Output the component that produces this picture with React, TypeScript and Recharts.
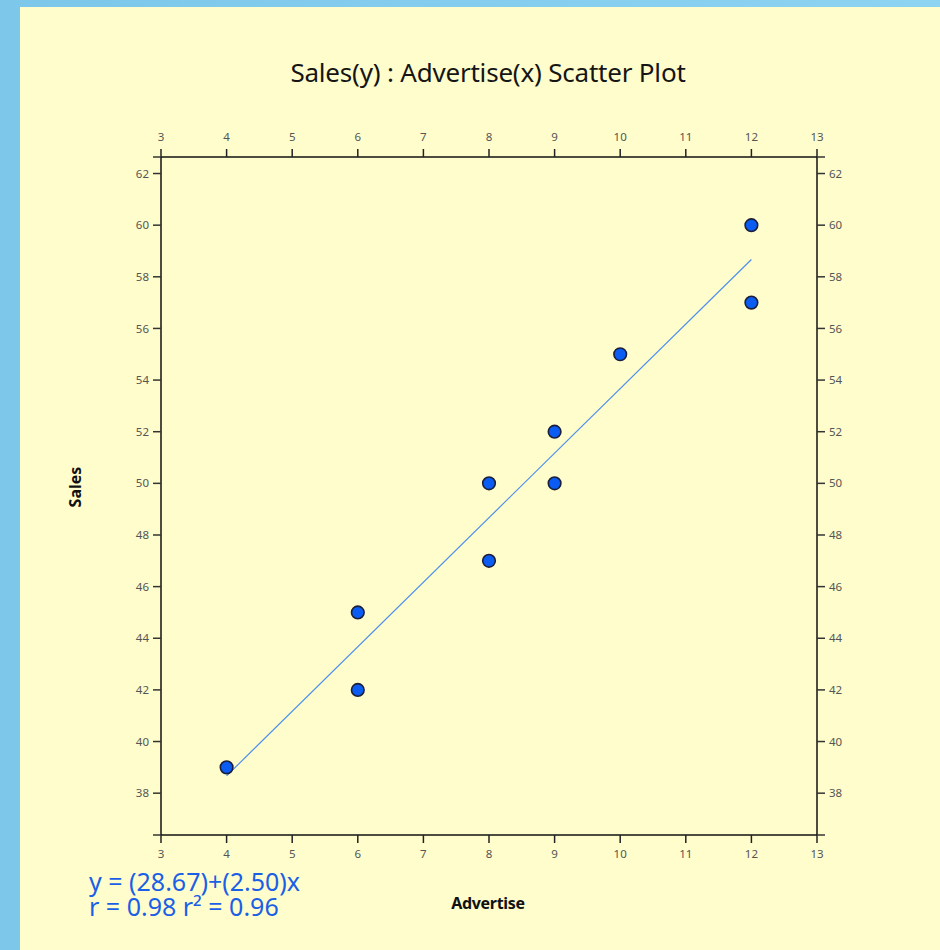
import React from 'react';
import { ScatterChart, Scatter, XAxis, YAxis } from 'recharts';

// Data
const advertise = [4, 6, 6, 8, 8, 9, 9, 10, 12, 12];
const sales = [39, 45, 42, 50, 47, 52, 50, 55, 60, 57];
const fitX = [4, 12];
const fitY = [38.67, 58.67];
const xTicks = [3, 4, 5, 6, 7, 8, 9, 10, 11, 12, 13];
const yLabelTicks = [38, 40, 42, 44, 46, 48, 50, 52, 54, 56, 58, 60, 62];
const xDomain = [3, 13];
const yDomain = [36.38, 62.64];
const titleText = 'Sales(y) : Advertise(x) Scatter Plot';
const xLabel = 'Advertise';
const yLabel = 'Sales';
const eqLine1 = 'y = (28.67)+(2.50)x';
const eqLine2 = 'r = 0.98 r² = 0.96';

const points = advertise.map((x, i) => ({ x, y: sales[i] }));
const fitLine = fitX.map((x, i) => ({ x, y: fitY[i] }));
const yTicks = [yDomain[0], ...yLabelTicks, yDomain[1]];

const FONT = '"Noto Sans", "Open Sans", sans-serif';
const tickStyle = { fontSize: 11.5, fill: '#555', fontFamily: FONT };
const yFmt = (v: number) => (yLabelTicks.includes(v) ? String(v) : '');

const Dot = (props: any) => {
  const { cx, cy } = props;
  if (cx == null || cy == null) return <g />;
  return <circle cx={cx} cy={cy} r={6.3} fill="#0a5cf2" stroke="#1b1f3a" strokeWidth={1.6} />;
};
const NoDot = () => <g />;

export default function App() {
  return (
    <div
      style={{
        position: 'absolute',
        left: 0,
        top: 0,
        width: 940,
        height: 950,
        background: 'linear-gradient(90deg, #7cc7ea 0%, #8dd3f2 100%)',
        overflow: 'hidden',
      }}
    >
      <div
        style={{
          position: 'absolute',
          left: 20,
          top: 7,
          width: 920,
          height: 943,
          background: '#fffdcc',
        }}
      />
      <div style={{ position: 'absolute', left: 0, top: 0 }}>
        <ScatterChart width={940} height={950} margin={{ top: 0, right: 0, bottom: 0, left: 0 }}>
          <XAxis
            xAxisId="b"
            dataKey="x"
            type="number"
            orientation="bottom"
            domain={xDomain}
            ticks={xTicks}
            allowDataOverflow
            height={115}
            tickSize={8}
            tickMargin={7}
            interval={0}
            axisLine={{ stroke: '#111', strokeWidth: 1.5 }}
            tickLine={{ stroke: '#222', strokeWidth: 1.5 }}
            tick={tickStyle}
          />
          <XAxis
            xAxisId="t"
            dataKey="x"
            type="number"
            orientation="top"
            domain={xDomain}
            ticks={xTicks}
            allowDataOverflow
            height={157}
            tickSize={8}
            tickMargin={8}
            interval={0}
            axisLine={{ stroke: '#111', strokeWidth: 1.5 }}
            tickLine={{ stroke: '#222', strokeWidth: 1.5 }}
            tick={tickStyle}
          />
          <YAxis
            yAxisId="l"
            dataKey="y"
            type="number"
            orientation="left"
            domain={yDomain}
            ticks={yTicks}
            allowDataOverflow
            width={161}
            tickSize={8}
            tickMargin={4}
            interval={0}
            tickFormatter={yFmt}
            axisLine={{ stroke: '#111', strokeWidth: 1.5 }}
            tickLine={{ stroke: '#333', strokeWidth: 1.5 }}
            tick={tickStyle}
          />
          <YAxis
            yAxisId="r"
            dataKey="y"
            type="number"
            orientation="right"
            domain={yDomain}
            ticks={yTicks}
            allowDataOverflow
            width={123}
            tickSize={8}
            tickMargin={4}
            interval={0}
            tickFormatter={yFmt}
            axisLine={{ stroke: '#111', strokeWidth: 1.5 }}
            tickLine={{ stroke: '#333', strokeWidth: 1.5 }}
            tick={tickStyle}
          />
          <Scatter
            xAxisId="t"
            yAxisId="r"
            data={fitLine}
            line={{ stroke: '#4d8ff0', strokeWidth: 1.2 }}
            shape={NoDot}
            isAnimationActive={false}
          />
          <Scatter
            xAxisId="b"
            yAxisId="l"
            data={points}
            shape={Dot}
            isAnimationActive={false}
          />
        </ScatterChart>
      </div>
      <div
        style={{
          position: 'absolute',
          left: 88,
          top: 54,
          width: 800,
          textAlign: 'center',
          fontFamily: FONT,
          fontSize: 26,
          color: '#151515',
          lineHeight: '36px',
          letterSpacing: -0.2,
        }}
      >
        {titleText}
      </div>
      <div
        style={{
          position: 'absolute',
          left: 388,
          top: 890,
          width: 200,
          textAlign: 'center',
          fontFamily: FONT,
          fontSize: 16,
          fontWeight: 700,
          color: '#111',
          lineHeight: '26px',
          letterSpacing: -0.3,
        }}
      >
        {xLabel}
      </div>
      <div
        style={{
          position: 'absolute',
          left: 25,
          top: 474,
          width: 100,
          textAlign: 'center',
          fontFamily: FONT,
          fontSize: 16,
          fontWeight: 700,
          color: '#111',
          lineHeight: '26px',
          transform: 'rotate(-90deg)',
        }}
      >
        {yLabel}
      </div>
      <div
        style={{
          position: 'absolute',
          left: 89,
          top: 869,
          fontFamily: FONT,
          fontSize: 25,
          color: '#1a5fe6',
          lineHeight: '25px',
          whiteSpace: 'nowrap',
        }}
      >
        <div style={{ height: 25 }}>{eqLine1}</div>
        <div style={{ height: 25 }}>{eqLine2}</div>
      </div>
    </div>
  );
}
